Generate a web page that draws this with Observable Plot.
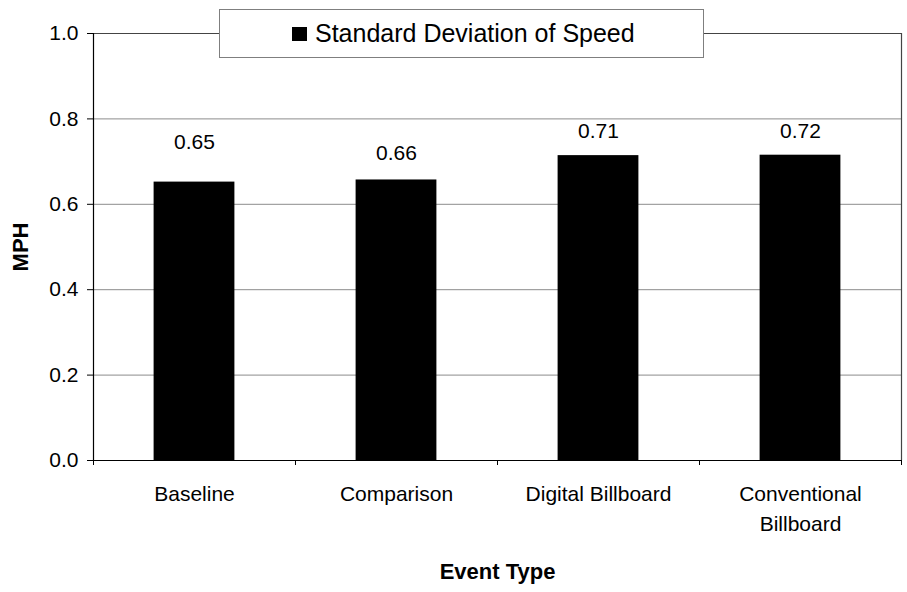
<!DOCTYPE html>
<html>
<head>
<meta charset="utf-8">
<script src="https://cdn.jsdelivr.net/npm/d3@7"></script>
<script src="https://cdn.jsdelivr.net/npm/@observablehq/plot@0.6"></script>
<style>
  body { margin: 0; background: #fff; }
  #wrap { position: relative; width: 907px; height: 592px; font-family: "Liberation Sans", Arial, sans-serif; }
  #legend { position: absolute; left: 219px; top: 9px; width: 485px; height: 49px; border: 1px solid #7f7f7f; background: #fff; display: flex; align-items: center; box-sizing: border-box; }
  #legend .sw { width: 15px; height: 14px; background: #000; margin-left: 72px; margin-right: 8px; margin-top: 1px; }
  #legend .tx { font-size: 25px; color: #000; }
</style>
</head>
<body>
<div id="wrap"></div>
<script>
const categories = ["Baseline", "Comparison", "Digital Billboard", "Conventional\nBillboard"];
const values = [0.652, 0.657, 0.714, 0.715];
const valueLabels = ["0.65", "0.66", "0.71", "0.72"];
const labelPos = [0.745, 0.719, 0.771, 0.771];
const yTicks = [0, 0.2, 0.4, 0.6, 0.8, 1.0];
const seriesName = "Standard Deviation of Speed";

const data = categories.map((c, i) => ({ i, category: c, value: values[i], label: valueLabels[i], ly: labelPos[i] }));

const chart = Plot.plot({
  width: 907,
  height: 592,
  marginLeft: 93,
  marginRight: 6,
  marginTop: 33,
  marginBottom: 132,
  style: { fontFamily: "Liberation Sans, Arial, sans-serif", fontSize: "21px", color: "#000", background: "#fff" },
  x: { domain: [0, categories.length] },
  y: { domain: [0, 1] },
  marks: [
    Plot.ruleY(yTicks.slice(1, -1), { stroke: "#8c8c8c", strokeWidth: 1 }),
    Plot.ruleY([1], { stroke: "#444", strokeWidth: 1.2 }),
    Plot.ruleX([categories.length], { stroke: "#444", strokeWidth: 1.2 }),
    Plot.rectY(data, { x1: d => d.i + 0.3, x2: d => d.i + 0.7, y1: 0, y2: "value", fill: "#000" }),
    Plot.text(data, { x: d => d.i + 0.5, y: "ly", text: "label", fontSize: 21, fill: "#000" }),
    Plot.ruleY([0], { stroke: "#000", strokeWidth: 1.2 }),
    Plot.ruleX([0], { stroke: "#000", strokeWidth: 1.2 }),
    Plot.axisY({ ticks: yTicks, tickFormat: d3.format(".1f"), tickSize: 6, tickPadding: 9, label: null, fontSize: 21 }),
    Plot.axisX({ ticks: d3.range(categories.length + 1), tickFormat: () => "", tickSize: 5, label: null }),
    Plot.axisX({ ticks: categories.map((c, i) => i + 0.5), tickFormat: v => categories[Math.floor(v)], tickSize: 0, tickPadding: 19, lineHeight: 1.43, label: null, fontSize: 21 }),
    Plot.text(["Event Type"], { frameAnchor: "bottom", dy: 118, text: d => d, fontWeight: "bold", fontSize: 22, letterSpacing: "0.5px" }),
    Plot.text(["MPH"], { frameAnchor: "left", dx: -73, rotate: -90, textAnchor: "middle", text: d => d, fontWeight: "bold", fontSize: 22 })
  ]
});

const wrap = document.getElementById("wrap");
wrap.appendChild(chart);
const legend = document.createElement("div");
legend.id = "legend";
legend.innerHTML = '<div class="sw"></div><div class="tx"></div>';
legend.querySelector(".tx").textContent = seriesName;
wrap.appendChild(legend);
</script>
</body>
</html>
